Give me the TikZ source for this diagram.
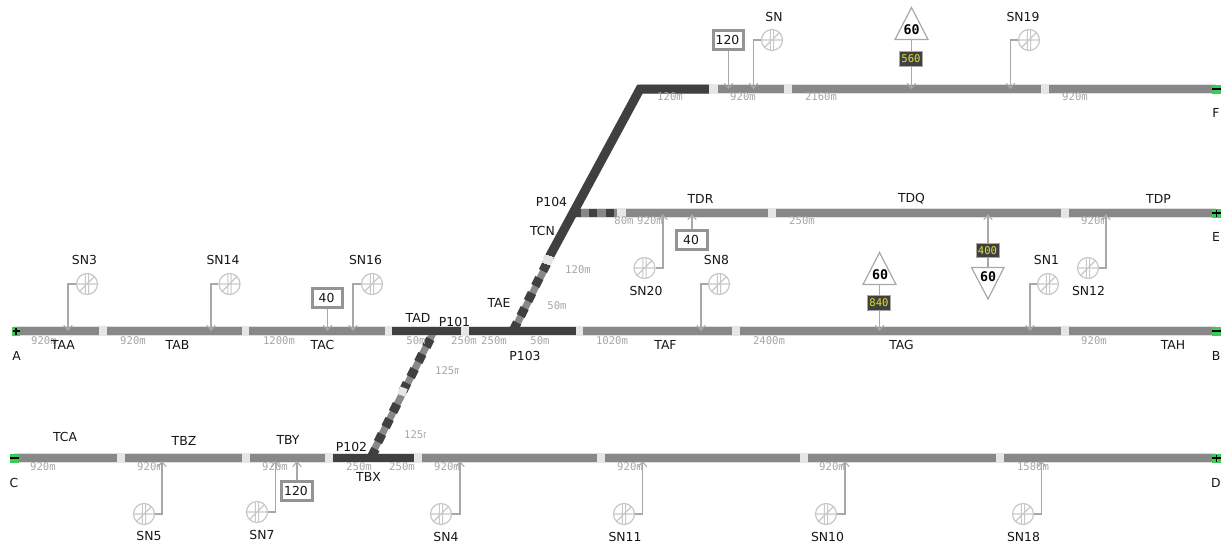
\documentclass[tikz,border=0pt]{standalone}
\usepackage{fontspec}
\setmainfont{DejaVu Sans}
\newfontfamily\monof{DejaVu Sans Mono}
\usetikzlibrary{arrows.meta}
\definecolor{trk}{HTML}{888888}
\definecolor{drk}{HTML}{404040}
\definecolor{halo}{HTML}{DEDEDE}
\definecolor{gapc}{HTML}{E6E6E6}
\definecolor{sig}{HTML}{A8A8A8}
\definecolor{snc}{HTML}{C8C8C8}
\definecolor{dist}{HTML}{A6A6A6}
\definecolor{grn}{HTML}{3CCB55}
\definecolor{yel}{HTML}{E2E222}
\definecolor{lab}{HTML}{161616}
\tikzset{
  x=1pt,y=-1pt,
  halotrack/.style={draw=halo,line width=10.4pt},
  graytrack/.style={draw=trk,line width=8pt},
  darktrack/.style={draw=drk,line width=8pt},
  darkdiag/.style={draw=drk,line width=9pt},
  diaggray/.style={draw=trk,line width=7pt},
  gapbox/.style={fill=gapc,draw=none},
  lbl/.style={font=\fontsize{12.4}{14}\selectfont,text=lab,inner sep=0pt},
  distl/.style={font=\monof\fontsize{10.6}{12}\selectfont,text=dist,inner sep=0pt},
  sigline/.style={draw=sig,line width=1.2pt,-{Straight Barb[length=5pt,width=8.5pt,line width=1pt]}},
  snsym/.style={circle,draw=snc,line width=1.2pt,minimum size=21pt,inner sep=0pt,fill=white},
  speedbox/.style={draw=trk!90,line width=3pt,fill=white,minimum width=30.5pt,minimum height=18.5pt,inner sep=0pt,font=\fontsize{12.4}{14}\selectfont,text=lab},
  distbox/.style={draw=sig,line width=0.8pt,fill=drk,minimum width=23pt,minimum height=14.5pt,inner sep=0pt,font=\monof\fontsize{10.6}{12}\selectfont,text=yel},
  tri/.style={draw=sig,line width=1.2pt,fill=white},
  trinum/.style={font=\monof\bfseries\fontsize{13.3}{15}\selectfont,text=black,inner sep=0pt},
}
% sensor: id, x, y, label text, label x, label y, line x, track y, anchor
\newcommand{\sensor}[9]{%
  \node[snsym] (#1) at (#2,#3) {};
  \draw[snc,line width=1.1pt] (#2-1.6,#3-10.3) -- (#2-1.6,#3+10.3)
     (#2+1.6,#3-10.3) -- (#2+1.6,#3+10.3)
     (#2-10.3,#3) -- (#2+10.3,#3)
     (#2-7.3,#3+7.3) -- (#2+7.3,#3-7.3);
  \node[lbl] (#1l) at (#5,#6) {#4};
  \coordinate (#1t) at (#7,#8);
  \draw[sigline] (#1.#9) -| (#1t);
}
\newcommand{\gapat}[3]{\fill[gapbox] (#1,#3-4.8) rectangle (#2,#3+4.8);}
\newcommand{\spd}[1]{\raisebox{1pt}{#1}\kern2pt}
\begin{document}
\begin{tikzpicture}
\useasboundingbox (0,0) rectangle (1221,542);
% halos
\draw[halotrack] (14,331) -- (1216,331);
\draw[halotrack] (14,458) -- (1216,458);
\draw[halotrack] (573,213) -- (1216,213);
\draw[halotrack] (640,89) -- (1216,89);
% lower part of upper diagonal
\draw[diaggray] (515,328) -- (547.6,263);
\foreach \x/\y in {545/267,537.3/282,530/297,522.7/312,515.2/326.5}
  \draw[drk,line width=9pt] (\x+2,\y-4) -- (\x-2,\y+4);
% TBX diagonal
\draw[diaggray] (434,331) -- (371,456);
\foreach \x/\y in {428.3/343,420.3/358,412.6/373,405/387,395/408,387.6/423,380/438,373.5/453}
  \draw[drk,line width=9pt] (\x+2,\y-4) -- (\x-2,\y+4);
% row A-B
\draw[graytrack] (20,331) -- (392,331);
\draw[darktrack] (392,331) -- (576,331);
\draw[graytrack] (576,331) -- (1214,331);
% row C-D
\draw[graytrack] (19,458) -- (333,458);
\draw[darktrack] (333,458) -- (414,458);
\draw[graytrack] (414,458) -- (1214,458);
% row E
\draw[graytrack] (575,213) -- (1214,213);
\draw[darktrack] (573,213) -- (580.5,213);
\draw[darktrack] (589,213) -- (597,213);
\draw[darktrack] (606,213) -- (614,213);
% row F and the upper diagonal
\draw[darkdiag,line join=miter] (547.6,260) -- (573,213) -- (640,89) -- (712,89);
\draw[graytrack] (712,89) -- (1214,89);
% gaps
\foreach \a/\b in {99/106.7,241.5/249,384.5/392,460.5/468.5,575.5/583,732/739.5,1060.5/1068.7}
  \gapat{\a}{\b}{331}
\foreach \a/\b in {116.5/124.7,241.5/249.5,325/333,414/422.2,597/605,799.5/807.5,995.5/1003.5}
  \gapat{\a}{\b}{458}
\foreach \a/\b in {617.2/625.7,768/776,1060.5/1068.7}
  \gapat{\a}{\b}{213}
\foreach \a/\b in {709/717.5,783.5/791.5,1041/1049}
  \gapat{\a}{\b}{89}
\fill[gapbox,rotate around={-20:(548,260)}] (544,256) rectangle (552,264);
\fill[gapbox,rotate around={-20:(402.5,391.5)}] (398.5,387.5) rectangle (406.5,395.5);
% line ends
\fill[grn] (12,326.5) rectangle (20,335.5);
\draw[black,line width=1.6pt] (12.5,331) -- (19.5,331) (16,327.5) -- (16,334.5);
\fill[grn] (1212,326.5) rectangle (1221,335.5);
\draw[black,line width=1.6pt] (1212,331) -- (1221,331);
\fill[grn] (10,453.5) rectangle (19,462.5);
\draw[black,line width=1.6pt] (10,458) -- (19,458);
\fill[grn] (1212,453.5) rectangle (1221,462.5);
\draw[black,line width=1.6pt] (1212,458) -- (1221,458) (1216.5,454.5) -- (1216.5,461.5);
\fill[grn] (1212,208.5) rectangle (1221,217.5);
\draw[black,line width=1.6pt] (1212,213) -- (1221,213) (1216.5,209.5) -- (1216.5,216.5);
\fill[grn] (1212,84.5) rectangle (1221,93.5);
\draw[black,line width=1.6pt] (1212,89) -- (1221,89);
% distance labels
\foreach \x/\y/\t [count=\i] in {44/341/920m,133/341/920m,279/341/1200m,416/341/50m,464/341/250m,494/341/250m,540/341/50m,612/341/1020m,769/341/2400m,1094/341/920m,
  670/97/120m,743/97/920m,821/97/2160m,1075/97/920m,
  624/221/80m,650/221/920m,802/221/250m,1094/221/920m,
  43/467/920m,150/467/920m,275/467/920m,359/467/250m,402/467/250m,447/467/920m,630/467/920m,832/467/920m,1033/467/1580m,
  578/270/120m,557/306/50m}
  \node[distl] (d\i) at (\x,\y) {\t};
\begin{scope}
  \clip (430,360) rectangle (458,380);
  \node[distl,anchor=west] (dclipa) at (435,370.5) {125m};
\end{scope}
\begin{scope}
  \clip (400,424) rectangle (425.5,444);
  \node[distl,anchor=west] (dclipb) at (404,434.5) {125m};
\end{scope}
% track labels
\foreach \x/\y/\t [count=\i] in {63/345/TAA,177.5/345/TAB,322.5/345/TAC,418/318/TAD,454.5/322/P101,499/303/TAE,525/356/P103,665.5/345/TAF,901.5/345/TAG,1173/345/TAH,
  542.5/231/TCN,551.5/202/P104,700.5/199/TDR,911.5/199/TDQ,1158.5/199/TDP,
  65/437/TCA,184/441/TBZ,288/440/TBY,351.5/447/P102,368.5/477/TBX,
  16.5/356/A,1216/356/B,14/483/C,1216/483/D,1216/237/E,1216/113/F}
  \node[lbl] (l\i) at (\x,\y) {\t};
% sensors
\sensor{snc}{87}{284}{SN3}{84.5}{260}{68}{331}{west}
\sensor{snd}{229.5}{284}{SN14}{223}{260}{211}{331}{west}
\sensor{sne}{372}{284}{SN16}{365.5}{260}{353}{331}{west}
\sensor{snf}{772}{40}{SN}{774}{17}{753.5}{89}{west}
\sensor{sng}{1029}{40}{SN19}{1023}{17}{1010.5}{89}{west}
\sensor{snh}{719}{284}{SN8}{716.5}{260}{701}{331}{west}
\sensor{sni}{1048}{284}{SN1}{1046.5}{260}{1030}{331}{west}
\sensor{snj}{644.5}{268}{SN20}{646}{291}{663}{214}{east}
\sensor{snk}{1088}{268}{SN12}{1088.5}{291}{1106}{214}{east}
\sensor{snl}{144}{514}{SN5}{149}{536}{162}{461}{east}
\sensor{snm}{257}{512}{SN7}{262}{535}{275.5}{461}{east}
\sensor{snn}{441}{514}{SN4}{446}{536.5}{460}{461}{east}
\sensor{sno}{624}{514}{SN11}{625}{536.5}{642.5}{461}{east}
\sensor{snp}{826}{514}{SN10}{827.5}{536.5}{845}{461}{east}
\sensor{snq}{1023}{514}{SN18}{1023.5}{536.5}{1041.5}{461}{east}
% speed boxes
\node[speedbox] (sa) at (728.5,40) {\spd{120}};
\coordinate (sat) at (728.5,89);
\draw[sigline] (sa) -- (sat);
\node[speedbox] (sb) at (327.5,298) {\spd{40}};
\coordinate (sbt) at (327.5,331);
\draw[sigline] (sb) -- (sbt);
\node[speedbox] (sc) at (692,240) {\spd{40}};
\coordinate (sct) at (692,214);
\draw[sigline] (sc) -- (sct);
\node[speedbox] (sd) at (297,491) {\spd{120}};
\coordinate (sdt) at (297,461);
\draw[sigline] (sd) -- (sdt);
% triangle signs
\coordinate (tat) at (911.5,89);
\coordinate (tbt) at (879.5,331);
\coordinate (tct) at (988,214);
\coordinate (tao) at (911.5,39.5);
\coordinate (tbo) at (879.5,284.5);
\coordinate (tco) at (988,267);
\draw[sigline] (tao) -- (tat);
\draw[sigline] (tbo) -- (tbt);
\draw[sigline] (tco) -- (tct);
\draw[tri,line join=miter] (911.5,7.5) -- (928,39.5) -- (895,39.5) -- cycle;
\draw[tri,line join=miter] (879.5,252.5) -- (896,284.5) -- (863,284.5) -- cycle;
\draw[tri,line join=miter] (971.5,267.5) -- (1004,267.5) -- (988,299) -- cycle;
\node[trinum] (ta) at (911.5,29.5) {60};
\node[trinum] (tb) at (880,274.5) {60};
\node[trinum] (tc) at (988,276.5) {60};
\node[distbox] (ba) at (911,59) {560};
\node[distbox] (bb) at (879,303) {840};
\node[distbox] (bc) at (987.5,250.5) {400};
\end{tikzpicture}
\end{document}
